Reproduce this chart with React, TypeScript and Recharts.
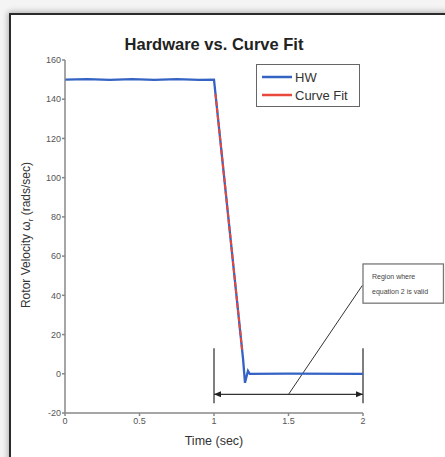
import {
  LineChart,
  Line,
  XAxis,
  YAxis,
  Legend,
  Label,
  ReferenceLine,
  ReferenceArea,
} from 'recharts'

const FONT = '"Liberation Sans", Arial, sans-serif'

// measured hardware response (rads/sec)
const hwTime = [0, 0.15, 0.3, 0.45, 0.6, 0.75, 0.9, 1.0, 1.195, 1.208, 1.228, 1.24, 1.5, 2.0]
const hwVelocity = [150, 150.2, 149.9, 150.2, 149.9, 150.2, 149.9, 150, 7.6, -4.6, 1.5, 0, 0.1, 0]

// linear curve fit over the drop
const fitTime = [1.01, 1.19]
const fitVelocity = [142.7, 11.3]

const xTicks = [0, 0.5, 1, 1.5, 2]
const yTicks = [-20, 0, 20, 40, 60, 80, 100, 120, 140, 160]

// annotation: region where equation 2 is valid
const regionStart = 1
const regionEnd = 2
const bracketTop = 13
const bracketBottom = -15
const arrowLevel = -10.5
const calloutX = [2, 2.54]
const calloutY = [36, 56]
const calloutText = ['Region where', 'equation 2 is valid']

const hwData = hwTime.map((t, i) => ({ t, v: hwVelocity[i] }))
const fitData = fitTime.map((t, i) => ({ t, v: fitVelocity[i] }))

const DoubleArrow = (props: any) => {
  const { x1, y1, x2, y2 } = props
  const s = 7
  return (
    <g>
      <line x1={x1} y1={y1} x2={x2} y2={y2} stroke="#333" strokeWidth={1.2} />
      <path d={`M${x1},${y1} L${x1 + s},${y1 - 3} L${x1 + s},${y1 + 3} Z`} fill="#222" />
      <path d={`M${x2},${y2} L${x2 - s},${y2 - 3} L${x2 - s},${y2 + 3} Z`} fill="#222" />
    </g>
  )
}

const CalloutBox = (props: any) => {
  const { x, y, width, height } = props
  return (
    <g>
      <rect x={x} y={y} width={width} height={height} fill="#fff" stroke="#777" strokeWidth={1.3} />
      {calloutText.map((line, i) => (
        <text key={line} x={x + 9} y={y + 15 + i * 15} fontSize={7} fill="#444" fontFamily={FONT}>
          {line}
        </text>
      ))}
    </g>
  )
}

const LegendBox = () => (
  <div
    style={{
      border: '1px solid #666',
      background: '#fff',
      fontFamily: FONT,
      fontSize: 13,
      color: '#333',
      padding: '3px 0 2px 5px',
      boxSizing: 'border-box',
      width: 104,
      height: 43,
    }}
  >
    {[
      { name: 'HW', color: '#3563c4' },
      { name: 'Curve Fit', color: '#e8473c' },
    ].map((item) => (
      <div key={item.name} style={{ display: 'flex', alignItems: 'center', height: 18 }}>
        <svg width={30} height={4} style={{ marginRight: 3 }}>
          <line x1={0} y1={2} x2={30} y2={2} stroke={item.color} strokeWidth={2.5} />
        </svg>
        <span>{item.name}</span>
      </div>
    ))}
  </div>
)

export default function App() {
  return (
    <div
      style={{
        position: 'absolute',
        left: 0,
        top: 0,
        width: 445,
        height: 457,
        background: '#f4f4f4',
        overflow: 'hidden',
      }}
    >
      <div
        style={{
          position: 'absolute',
          left: 9,
          top: 13,
          width: 445,
          height: 457,
          background: '#fff',
          borderLeft: '2px solid #2b2b2b',
          borderTop: '2px solid #2b2b2b',
          boxShadow: '-1px -1px 6px rgba(0,0,0,0.3)',
        }}
      />
      <div
        style={{
          position: 'absolute',
          left: 64,
          width: 300,
          top: 35,
          textAlign: 'center',
          fontFamily: FONT,
          fontWeight: 'bold',
          fontSize: 16.5,
          color: '#222',
        }}
      >
        Hardware vs. Curve Fit
      </div>
      <div style={{ position: 'absolute', left: 0, top: 0 }}>
        <LineChart width={445} height={457} margin={{ top: 60, right: 82, bottom: 0, left: 0 }}>
          <XAxis
            dataKey="t"
            type="number"
            domain={[0, 2]}
            ticks={xTicks}
            height={44}
            stroke="#888"
            strokeWidth={1.5}
            tickSize={3}
            tickMargin={2}
            tick={{ fontSize: 9, fill: '#555', fontFamily: FONT }}
            allowDataOverflow
          >
            <Label
              value="Time (sec)"
              position="insideBottom"
              offset={12}
              style={{ fontSize: 12.5, fill: '#333', fontFamily: FONT }}
            />
          </XAxis>
          <YAxis
            type="number"
            domain={[-20, 160]}
            ticks={yTicks}
            width={65}
            stroke="#888"
            strokeWidth={1.5}
            tickSize={3}
            tickMargin={1}
            tick={{ fontSize: 9, fill: '#555', fontFamily: FONT }}
          >
            <Label
              content={() => (
                <text
                  transform="translate(30, 235) rotate(-90)"
                  textAnchor="middle"
                  fontSize={12}
                  fill="#333"
                  fontFamily={FONT}
                >
                  Rotor Velocity ω
                  <tspan fontSize={8} dy={3}>
                    r
                  </tspan>
                  <tspan dy={-3}> (rads/sec)</tspan>
                </text>
              )}
            />
          </YAxis>
          <Legend
            layout="vertical"
            align="center"
            verticalAlign="middle"
            wrapperStyle={{ position: 'absolute', left: 256, top: 64, width: 104, height: 43 }}
            content={<LegendBox />}
          />
          <ReferenceLine
            segment={[
              { x: regionStart, y: bracketTop },
              { x: regionStart, y: bracketBottom },
            ]}
            stroke="#555"
            strokeWidth={1.5}
            ifOverflow="visible"
          />
          <ReferenceLine
            segment={[
              { x: regionEnd, y: bracketTop },
              { x: regionEnd, y: bracketBottom },
            ]}
            stroke="#555"
            strokeWidth={1.5}
            ifOverflow="visible"
          />
          <ReferenceLine
            segment={[
              { x: (regionStart + regionEnd) / 2, y: arrowLevel },
              { x: calloutX[0] - 0.005, y: 45 },
            ]}
            stroke="#333"
            strokeWidth={1}
            ifOverflow="visible"
          />
          <Line
            data={hwData}
            dataKey="v"
            name="HW"
            type="linear"
            stroke="#3563c4"
            strokeWidth={2.3}
            dot={false}
            isAnimationActive={false}
          />
          <Line
            data={fitData}
            dataKey="v"
            name="Curve Fit"
            type="linear"
            stroke="#e8473c"
            strokeWidth={2}
            strokeDasharray="5 2"
            dot={false}
            isAnimationActive={false}
          />
          <ReferenceLine
            segment={[
              { x: regionStart, y: arrowLevel },
              { x: regionEnd, y: arrowLevel },
            ]}
            ifOverflow="visible"
            shape={DoubleArrow}
          />
          <ReferenceArea
            x1={calloutX[0]}
            x2={calloutX[1]}
            y1={calloutY[0]}
            y2={calloutY[1]}
            ifOverflow="visible"
            shape={CalloutBox}
          />
        </LineChart>
      </div>
    </div>
  )
}
